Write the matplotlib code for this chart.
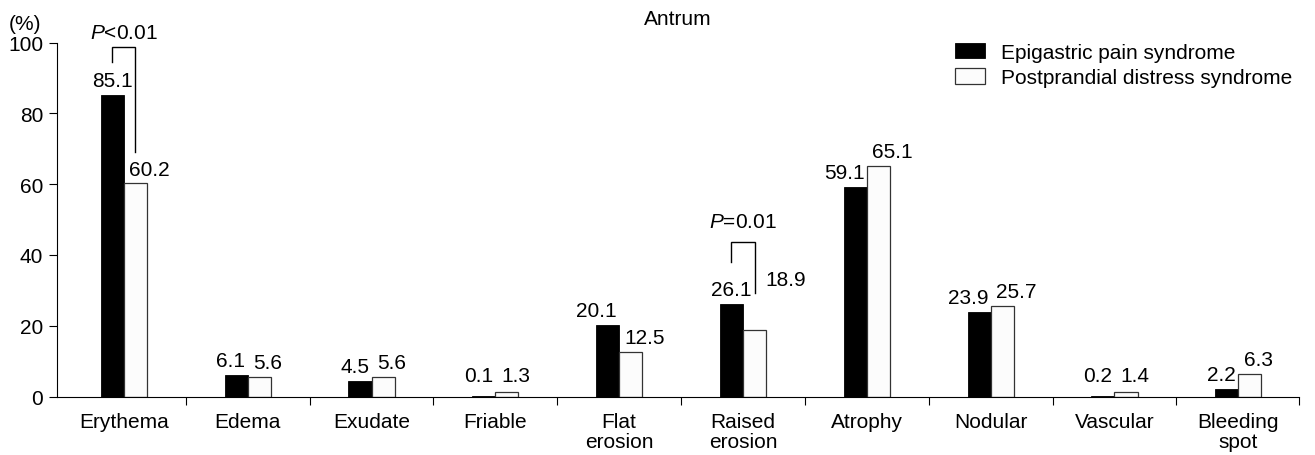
import numpy as np
import matplotlib
matplotlib.use('Agg')
import matplotlib.pyplot as plt
from matplotlib.patches import Patch

plt.rcParams['font.family'] = ['Liberation Sans', 'DejaVu Sans']
plt.rcParams['mathtext.fontset'] = 'custom'
plt.rcParams['mathtext.it'] = 'Liberation Sans:italic'
plt.rcParams['mathtext.rm'] = 'Liberation Sans'

# data
categories = ['Erythema', 'Edema', 'Exudate', 'Friable', 'Flat\nerosion',
              'Raised\nerosion', 'Atrophy', 'Nodular', 'Vascular', 'Bleeding\nspot']
eps = [85.1, 6.1, 4.5, 0.1, 20.1, 26.1, 59.1, 23.9, 0.2, 2.2]
pds = [60.2, 5.6, 5.6, 1.3, 12.5, 18.9, 65.1, 25.7, 1.4, 6.3]
series_names = ['Epigastric pain syndrome', 'Postprandial distress syndrome']
p_groups = [0, 5]
p_texts = ['$\\mathit{P}$<0.01', '$\\mathit{P}$=0.01']

FS = 15
W = 0.186
W_PX, H_PX = 1315, 456

fig = plt.figure(figsize=(W_PX / 100, H_PX / 100), dpi=100)
ax = fig.add_axes([57 / W_PX, 58.5 / H_PX, (1299 - 57) / W_PX, (397.5 - 43.5) / H_PX])

x = np.arange(len(categories))
ax.bar(x - W / 2, eps, W, color='black', edgecolor='black', linewidth=0.6)
ax.bar(x + W / 2, pds, W, color='#fcfcfc', edgecolor='#333333', linewidth=0.9)

# value labels
for i, (a, b) in enumerate(zip(eps, pds)):
    ya = max(a, 2) + 2.5
    yb = max(b, 2) + 2.5
    if i in p_groups:
        ax.text(i - W / 2, ya, f'{a}', ha='center', va='baseline', fontsize=FS)
    else:
        ax.text(i - 0.02, ya, f'{a}', ha='right', va='baseline', fontsize=FS)
    if i == 5:
        ax.text(i + 0.18, 31.5, f'{b}', ha='left', va='baseline', fontsize=FS)
    else:
        ax.text(i + 0.045, yb, f'{b}', ha='left', va='baseline', fontsize=FS)

# significance brackets: (top, left leg bottom, right leg bottom, text baseline)
bracket_pos = [(98.8, 94.5, 69.1, 101.4), (43.6, 38.0, 29.2, 47.9)]
for g, txt, (top, lb, rb, ty) in zip(p_groups, p_texts, bracket_pos):
    xl, xr = g - W / 2, g + W / 2
    ax.plot([xl, xl, xr, xr], [lb, top, top, rb], color='black', lw=1.0,
            clip_on=False, solid_joinstyle='miter')
    ax.text(g, ty, txt, ha='center', va='baseline', fontsize=FS, clip_on=False)

ax.set_xlim(-0.54, 9.49)
ax.set_ylim(0, 100)
ax.set_yticks([0, 20, 40, 60, 80, 100])
ax.tick_params(axis='y', labelsize=FS, length=6, width=0.8, pad=4, direction='out')

ax.set_xticks(list(x + 0.5)[:-1] + [9.49])
ax.set_xticklabels([])
ax.tick_params(axis='x', length=6, width=0.8, direction='out')
ax.set_xticks(x, minor=True)
ax.set_xticklabels(categories, minor=True, fontsize=FS, linespacing=1.1)
ax.tick_params(axis='x', which='minor', length=0, pad=11)

for s in ['top', 'right']:
    ax.spines[s].set_visible(False)
for s in ['left', 'bottom']:
    ax.spines[s].set_linewidth(0.8)

fig.text(678 / W_PX, 1 - 25 / H_PX, 'Antrum', ha='center', va='baseline', fontsize=FS)
fig.text(25.5 / W_PX, 1 - 30 / H_PX, '(%)', ha='center', va='baseline', fontsize=FS)

handles = [Patch(facecolor='black', edgecolor='black', linewidth=0.6),
           Patch(facecolor='#fcfcfc', edgecolor='#333333', linewidth=0.9)]
ax.legend(handles, series_names, loc='upper left',
          bbox_to_anchor=(955 / W_PX, 1 - 44 / H_PX), bbox_transform=fig.transFigure,
          frameon=False, fontsize=FS, handlelength=1.45, handleheight=0.75,
          handletextpad=0.75, labelspacing=0.3, borderpad=0, borderaxespad=0)

fig.savefig('out.png', dpi=100)
